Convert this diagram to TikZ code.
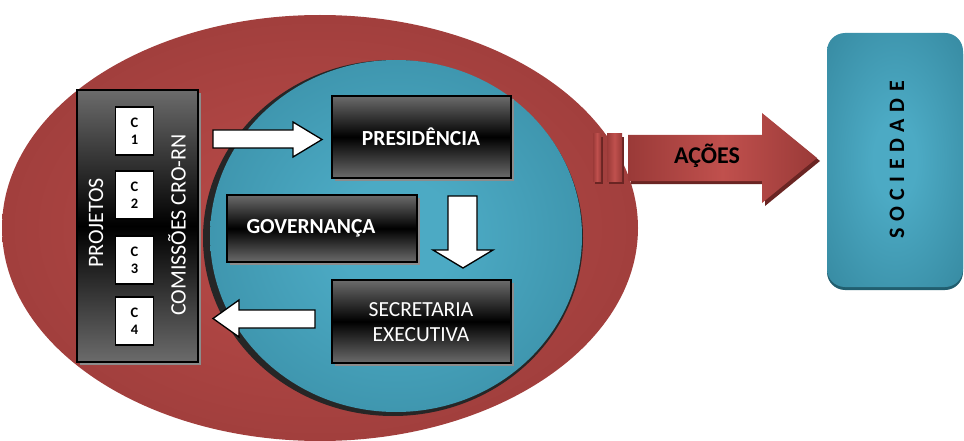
\documentclass[tikz,border=0pt]{standalone}
\usepackage{fontspec}
\setmainfont{Carlito}
\usetikzlibrary{calc}
\definecolor{redL}{HTML}{BC4C4A}
\definecolor{redD}{HTML}{873230}
\definecolor{blueL}{HTML}{4CAAC4}
\definecolor{blueD}{HTML}{2C7A90}
\definecolor{arrL}{HTML}{C0504D}
\definecolor{arrD}{HTML}{9A3A38}
\definecolor{arrS}{HTML}{6A2523}
\definecolor{socS}{HTML}{215E6F}
\pgfdeclareradialshading{softred}{\pgfpoint{0bp}{0bp}}{color(0bp)=(redL); color(50bp)=(redD)}
\pgfdeclareradialshading{softblue}{\pgfpoint{0bp}{0bp}}{color(0bp)=(blueL); color(8bp)=(blueL); color(50bp)=(blueD)}
\tikzset{
  darkbox/.style={draw=black, line width=1.6pt, top color=black!58, bottom color=black!58, middle color=black, text=white, inner sep=0pt},
  boxshadow/.style={fill=black!45},
  whitebox/.style={draw=black, line width=1.2pt, fill=white, inner sep=0pt, minimum width=38pt, minimum height=48pt, align=center, font=\fontsize{14.5}{17}\selectfont\bfseries},
  blockarrow/.style={draw=black, line width=1.3pt, fill=white, line join=miter},
  bigtxt/.style={font=\fontsize{22}{24}\selectfont},
}
\begin{document}
\begin{tikzpicture}[x=1pt,y=-1pt]
\useasboundingbox (0,0) rectangle (964,441);
\begin{scope}
\clip (0,0) rectangle (964,441);
% red ellipse
\shade[shading=softred] (320,228) ellipse [x radius=318pt, y radius=213pt];
% blue ellipse with dark rim
\fill[black!85] (393,238) ellipse [x radius=190pt, y radius=178pt];
\shade[shading=softblue] (396,236) ellipse [x radius=186pt, y radius=176pt];
\end{scope}

% left panel
\fill[boxshadow] (80,93) rectangle (201,365);
\node[darkbox, minimum width=121pt, minimum height=272pt] (panel) at (137.5,226) {};
\node[whitebox] (c1) at (134.5,131) {C\\1};
\node[whitebox] (c2) at (134.5,195) {C\\2};
\node[whitebox] (c3) at (134.5,260) {C\\3};
\node[whitebox] (c4) at (134.5,321) {C\\4};
\node[bigtxt, text=white, rotate=90] (proj) at (96,223) {PROJETOS};
\node[bigtxt, text=white, rotate=90] (com) at (177,225) {COMISSÕES CRO-RN};

% boxes in blue ellipse
\fill[boxshadow] (335,99) rectangle (514,181);
\node[darkbox, minimum width=179pt, minimum height=82pt] (pres) at (421.5,137) {};
\node[font=\fontsize{21.5}{23}\selectfont\bfseries, text=white] (prest) at (421,137) {PRESIDÊNCIA};

\fill[boxshadow] (230,198) rectangle (420,265);
\node[darkbox, minimum width=190pt, minimum height=67pt] (gov) at (322,228.5) {};
\node[font=\fontsize{21.5}{23}\selectfont\bfseries, text=white] (govt) at (311,228) {GOVERNANÇA};

\fill[boxshadow] (335,283) rectangle (514,366);
\node[darkbox, minimum width=179pt, minimum height=83pt, align=center] (sec) at (421.5,321.5) {};
\node[font=\fontsize{21.5}{25}\selectfont, text=white, align=center] (sect) at (421,322) {SECRETARIA\\EXECUTIVA};

% white block arrows
\draw[blockarrow] (213,130) -- (293,130) -- (293,122) -- (322,139.5) -- (293,157) -- (293,148) -- (213,148) -- cycle;
\draw[blockarrow] (448,196) -- (477,196) -- (477,250) -- (493,250) -- (463,268) -- (433,250) -- (448,250) -- cycle;
\draw[blockarrow] (315,310) -- (239,310) -- (239,300) -- (213,318.5) -- (239,337) -- (239,328) -- (315,328) -- cycle;

% AÇÕES arrow
\fill[arrS] (595,137) rectangle (603,184);
\fill[arrS] (609,137) rectangle (624,184);
\fill[arrS] (631,138) -- (765,138) -- (765,116) -- (820,161) -- (765,206) -- (765,184) -- (631,184) -- cycle;
\shade[left color=arrD, right color=arrD, middle color=arrL] (593,134) rectangle (601,181);
\shade[left color=arrD, right color=arrD, middle color=arrL] (607,134) rectangle (622,181);
\shade[left color=arrD, right color=arrD, middle color=arrL] (628,135) -- (762,135) -- (762,113) -- (817,158) -- (762,203) -- (762,181) -- (628,181) -- cycle;
\node[font=\fontsize{24}{26}\selectfont\bfseries, text=black] (acoes) at (707,156) {AÇÕES};

% SOCIEDADE
\fill[socS, rounded corners=18pt] (827,36) rectangle (963,290);
\shade[shading=softblue, rounded corners=18pt] (827,33) rectangle (963,287);
\node[font=\fontsize{22}{24}\selectfont\bfseries, text=black, rotate=90] (soc) at (897,160) {\addfontfeatures{LetterSpace=30}SOCIEDADE};
\end{tikzpicture}
\end{document}
